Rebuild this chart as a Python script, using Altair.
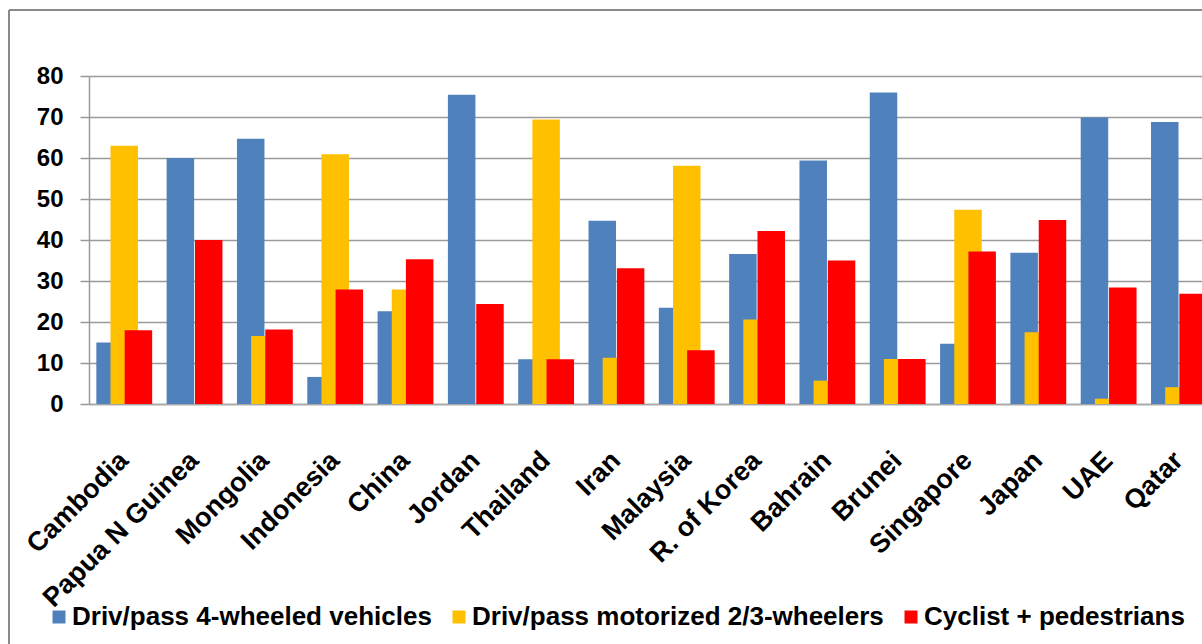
import altair as alt
import pandas as pd

# Share of road deaths (%) by road-user group
countries = [
    "Cambodia", "Papua N Guinea", "Mongolia", "Indonesia", "China", "Jordan",
    "Thailand", "Iran", "Malaysia", "R. of Korea", "Bahrain", "Brunei",
    "Singapore", "Japan", "UAE", "Qatar",
]
four_wheeled = [15.0, 60.0, 64.7, 6.6, 22.6, 75.4, 10.9, 44.7, 23.5, 36.6, 59.4, 76.0, 14.7, 36.9, 69.9, 68.8]
two_three_wheelers = [63.0, 0.0, 16.6, 60.9, 27.9, 0.0, 69.4, 11.3, 58.1, 20.6, 5.7, 11.0, 47.4, 17.5, 1.3, 4.1]
cyclist_pedestrians = [18.0, 40.0, 18.2, 27.9, 35.3, 24.4, 10.9, 33.1, 13.1, 42.2, 35.0, 11.0, 37.2, 44.9, 28.4, 26.9]

series_names = [
    "Driv/pass 4-wheeled vehicles",
    "Driv/pass motorized 2/3-wheelers",
    "Cyclist + pedestrians",
]
series_colors = ["#4F81BD", "#FFC000", "#FF0000"]
y_ticks = [0, 10, 20, 30, 40, 50, 60, 70, 80]

rows = []
for i, c in enumerate(countries):
    for name, vals in zip(series_names, [four_wheeled, two_three_wheelers, cyclist_pedestrians]):
        rows.append({"country": c, "series": name, "value": vals[i]})
df = pd.DataFrame(rows)

FONT = "Liberation Sans"
GRID = "#9a9a9a"

bars = alt.Chart(df).mark_bar(width=27.5, clip=True).encode(
    x=alt.X(
        "country:N",
        sort=countries,
        scale=alt.Scale(range=[0, 1125], paddingInner=0, paddingOuter=0),
        axis=alt.Axis(
            title=None, labelAngle=-45, labelAlign="right", labelBaseline="middle",
            labelFont=FONT, labelFontSize=27, labelFontWeight="bold", labelColor="black",
            labelPadding=52, labelLimit=400, ticks=False, domainColor="#a8a8a8",
            domainWidth=1.5, grid=False, labelOverlap=False,
        ),
    ),
    xOffset=alt.XOffset(
        "series:N", sort=series_names,
        scale=alt.Scale(range=[14, 56.5], paddingInner=0, paddingOuter=0),
    ),
    y=alt.Y(
        "value:Q",
        scale=alt.Scale(domain=[0, 80], nice=False),
        axis=alt.Axis(
            title=None, values=y_ticks, labelFont=FONT, labelFontSize=24,
            labelFontWeight="bold", labelColor="black", labelPadding=17,
            tickSize=9, tickColor=GRID, tickWidth=1.5, gridColor=GRID, gridWidth=1.5,
            domainColor=GRID, domainWidth=1.5,
        ),
    ),
    color=alt.Color(
        "series:N", sort=series_names,
        scale=alt.Scale(domain=series_names, range=series_colors),
        legend=alt.Legend(
            title=None, orient="none", direction="horizontal", legendX=-43, legendY=528,
            padding=0, symbolType="square", symbolSize=169, symbolStrokeWidth=0,
            symbolOpacity=1, labelFont=FONT, labelFontSize=26, labelFontWeight="bold",
            labelColor="black", labelLimit=700, labelOffset=0, columnPadding=14,
        ),
    ),
)

frame_src = alt.Data(values=[{"k": 1}])
frame_left = alt.Chart(frame_src).mark_rule(color="#8a8a8a", strokeWidth=2).encode(
    x=alt.value(-80), x2=alt.value(-80), y=alt.value(-66), y2=alt.value(600)
)
frame_top = alt.Chart(frame_src).mark_rule(color="#8a8a8a", strokeWidth=2).encode(
    x=alt.value(-80), x2=alt.value(1200), y=alt.value(-66), y2=alt.value(-66)
)

chart = alt.layer(frame_left, frame_top, bars).properties(
    width=1113,
    height=328,
    autosize=alt.AutoSizeParams(type="none"),
    padding={"left": 89, "top": 76, "right": 0, "bottom": 240},
    background="white",
).configure_view(stroke=None)

chart.save("out.html", embed_options={"renderer": "svg", "actions": False})
